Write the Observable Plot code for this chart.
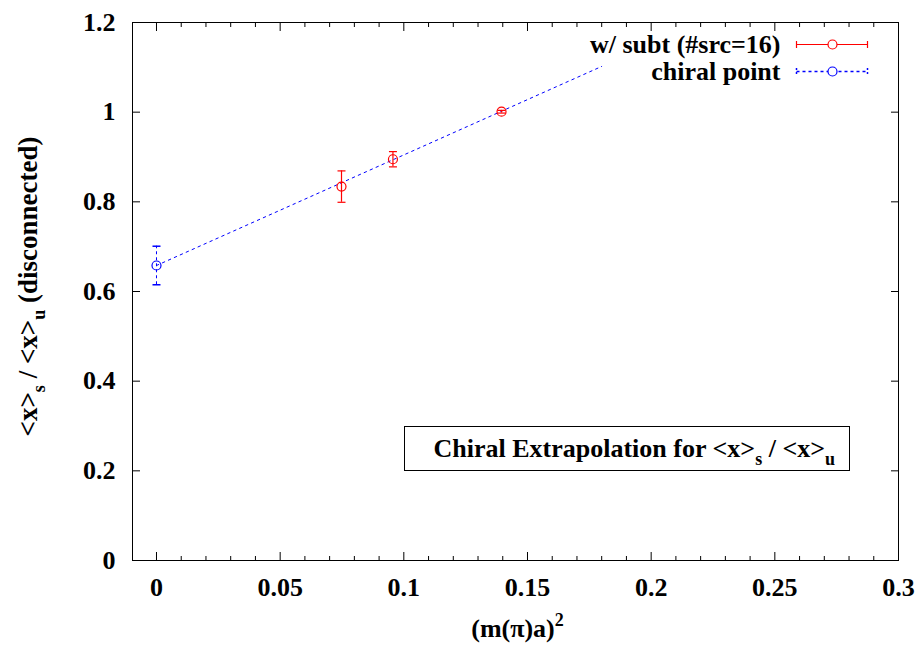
<!DOCTYPE html>
<html><head><meta charset="utf-8">
<script src="https://cdn.jsdelivr.net/npm/d3@7"></script>
<script src="https://cdn.jsdelivr.net/npm/@observablehq/plot@0.6"></script>
<style>body{margin:0;background:#fff} svg{display:block}</style>
</head><body><div id="chart"></div>
<script>
// ---- data ----
const subtX = [0.0748, 0.0956, 0.1395];
const subtY = [0.834, 0.895, 1.001];
const subtErr = [0.035, 0.017, 0.003];
const chiralX = [0];
const chiralY = [0.658];
const chiralErr = [0.043];
const fitX = [0, 0.18];
const fitY = [0.658, 1.102];
const xMajorTicks = [0, 0.05, 0.1, 0.15, 0.2, 0.25, 0.3];
const xTickLabels = ["0", "0.05", "0.1", "0.15", "0.2", "0.25", "0.3"];
const xMinorTicks = [0.01,0.02,0.03,0.04,0.06,0.07,0.08,0.09,0.11,0.12,0.13,0.14,0.16,0.17,0.18,0.19,0.21,0.22,0.23,0.24,0.26,0.27,0.28,0.29];
const yTicks = [0, 0.2, 0.4, 0.6, 0.8, 1, 1.2];
const yTickLabels = ["0", "0.2", "0.4", "0.6", "0.8", "1", "1.2"];
const legendLabels = ["w/ subt (#src=16)", "chiral point"];
const xLabel = "(m(π)a)2";
const yLabel = "<x>s / <x>u (disconnected)";
const boxLabel = "Chiral Extrapolation for <x>s / <x>u";

const RED = "#ff0000", BLUE = "#0000ff";
const FONT = "Liberation Serif";

const subt = subtX.map((x, i) => ({x, y: subtY[i], e: subtErr[i]}));
const chiral = chiralX.map((x, i) => ({x, y: chiralY[i], e: chiralErr[i]}));
const fit = fitX.map((x, i) => ({x, y: fitY[i]}));

const hline = {draw(ctx, size) { const r = Math.sqrt(size / Math.PI); ctx.moveTo(-r, 0); ctx.lineTo(r, 0); }};
const vline = {draw(ctx, size) { const r = Math.sqrt(size / Math.PI); ctx.moveTo(0, -r); ctx.lineTo(0, r); }};

const txt = {fontFamily: FONT, fontWeight: "bold", fill: "black", lineAnchor: "middle"};

const chart = Plot.plot({
  width: 920, height: 646,
  marginLeft: 132, marginRight: 22, marginTop: 22, marginBottom: 86,
  style: {fontFamily: FONT, fontWeight: "bold", fontSize: "26px", background: "#fff", color: "black"},
  x: {domain: [-0.0097, 0.3]},
  y: {domain: [0, 1.2]},
  marks: [
    // axes (gnuplot style inward ticks, mirrored)
    Plot.axisX({ticks: xMajorTicks, tickSize: -8, tickPadding: 25, tickFormat: (d, i) => xTickLabels[i], label: null}),
    Plot.axisX({ticks: xMinorTicks, tickSize: -4, tickFormat: () => "", label: null}),
    Plot.axisX({anchor: "top", ticks: xMajorTicks, tickSize: -8, tickFormat: () => "", label: null}),
    Plot.axisX({anchor: "top", ticks: xMinorTicks, tickSize: -4, tickFormat: () => "", label: null}),
    Plot.axisY({ticks: yTicks, tickSize: -8, tickPadding: 25, tickFormat: (d, i) => yTickLabels[i], label: null}),
    Plot.axisY({anchor: "right", ticks: yTicks, tickSize: -8, tickFormat: () => "", label: null}),
    Plot.frame({stroke: "black", strokeWidth: 1}),
    // fit line
    Plot.line(fit, {x: "x", y: "y", stroke: BLUE, strokeWidth: 1, strokeDasharray: "2.5,4"}),
    // chiral point
    Plot.ruleX(chiral, {x: "x", y1: d => d.y - d.e, y2: d => d.y + d.e, stroke: BLUE, strokeDasharray: "3,3"}),
    Plot.dot(chiral, {x: "x", y: d => d.y + d.e, symbol: hline, r: 4, stroke: BLUE}),
    Plot.dot(chiral, {x: "x", y: d => d.y - d.e, symbol: hline, r: 4, stroke: BLUE}),
    Plot.dot(chiral, {x: "x", y: "y", r: 4.5, stroke: BLUE, fill: "none", strokeWidth: 1.2}),
    // w/ subt points
    Plot.ruleX(subt, {x: "x", y1: d => d.y - d.e, y2: d => d.y + d.e, stroke: RED, strokeWidth: 1.2}),
    Plot.dot(subt, {x: "x", y: d => d.y + d.e, symbol: hline, r: 4, stroke: RED, strokeWidth: 1.2}),
    Plot.dot(subt, {x: "x", y: d => d.y - d.e, symbol: hline, r: 4, stroke: RED, strokeWidth: 1.2}),
    Plot.dot(subt, {x: "x", y: "y", r: 4.5, stroke: RED, fill: "none", strokeWidth: 1.2}),
    // legend
    Plot.text([legendLabels[0]], {text: d => d, frameAnchor: "top-right", dx: -118, dy: 22, textAnchor: "end", fontSize: 26, ...txt}),
    Plot.text([legendLabels[1]], {text: d => d, frameAnchor: "top-right", dx: -118, dy: 49, textAnchor: "end", fontSize: 26, ...txt}),
    Plot.dot([0], {frameAnchor: "top-right", dx: -66.5, dy: 22, symbol: hline, r: 35.5, stroke: RED, strokeWidth: 1.2}),
    Plot.dot([0], {frameAnchor: "top-right", dx: -102, dy: 22, symbol: vline, r: 3.5, stroke: RED, strokeWidth: 1.2}),
    Plot.dot([0], {frameAnchor: "top-right", dx: -31, dy: 22, symbol: vline, r: 3.5, stroke: RED, strokeWidth: 1.2}),
    Plot.dot([0], {frameAnchor: "top-right", dx: -66, dy: 22, r: 4.5, stroke: RED, fill: "white", strokeWidth: 1.2}),
    Plot.dot([0], {frameAnchor: "top-right", dx: -66.5, dy: 49, symbol: hline, r: 35.5, stroke: BLUE, strokeDasharray: "3,3"}),
    Plot.dot([0], {frameAnchor: "top-right", dx: -102, dy: 49, symbol: vline, r: 3.5, stroke: BLUE, strokeDasharray: "2,2"}),
    Plot.dot([0], {frameAnchor: "top-right", dx: -31, dy: 49, symbol: vline, r: 3.5, stroke: BLUE, strokeDasharray: "2,2"}),
    Plot.dot([0], {frameAnchor: "top-right", dx: -66, dy: 49, r: 4.5, stroke: BLUE, fill: "white", strokeWidth: 1.2}),
    // annotation box
    Plot.frame({insetLeft: 272, insetRight: 49, insetTop: 404, insetBottom: 90, stroke: "black", strokeWidth: 1}),
    Plot.text([boxLabel], {text: d => d, frameAnchor: "bottom-left", dx: 301, dy: -112, textAnchor: "start", fontSize: 26, ...txt}),
    // axis titles
    Plot.text([xLabel], {text: d => d, frameAnchor: "bottom", dx: 2, dy: 68, textAnchor: "middle", fontSize: 26, ...txt}),
    Plot.text([yLabel], {text: d => d, frameAnchor: "left", dx: -104, dy: -5, rotate: -90, textAnchor: "middle", fontSize: 27, ...txt})
  ]
});
document.getElementById("chart").appendChild(chart);

// rich text (sub/superscripts)
function rich(plain, parts) {
  chart.querySelectorAll("text").forEach(t => {
    if (t.textContent !== plain) return;
    while (t.firstChild) t.removeChild(t.firstChild);
    let shift = 0;
    for (const [s, kind] of parts) {
      const ts = document.createElementNS("http://www.w3.org/2000/svg", "tspan");
      ts.textContent = s;
      let target = kind === "sub" ? 8 : kind === "sup" ? -11 : 0;
      if (target !== shift) { ts.setAttribute("dy", target - shift); shift = target; }
      if (kind) ts.setAttribute("font-size", 18);
      t.appendChild(ts);
    }
  });
}
rich(yLabel, [["<x>"], ["s", "sub"], [" / <x>"], ["u", "sub"], [" (disconnected)"]]);
rich(boxLabel, [["Chiral Extrapolation for <x>"], ["s", "sub"], [" / <x>"], ["u", "sub"]]);
rich(xLabel, [["(m(π)a)"], ["2", "sup"]]);
</script>
</body></html>
